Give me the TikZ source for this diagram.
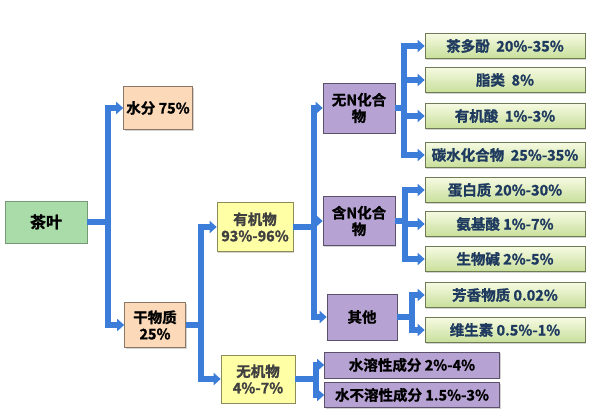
\documentclass[tikz,border=0pt]{standalone}
\usepackage{xcolor}
\usepackage{fontspec}
\usepackage{tikz}
\usetikzlibrary{arrows.meta,shadows}
\newfontfamily\cjkbold[FakeBold=1.2]{Noto Sans CJK SC Bold}
\definecolor{linkblue}{HTML}{3C7DD9}
\definecolor{teagreen}{HTML}{A9DCA9}
\definecolor{peach}{HTML}{FBD9B9}
\definecolor{paleyellow}{HTML}{FFFFA6}
\definecolor{lilac}{HTML}{B7A3D3}
\definecolor{leaftop}{HTML}{F6FAE2}
\definecolor{leafbot}{HTML}{C8DF9A}
\definecolor{navy}{HTML}{1F3A5F}

\tikzset{
  box/.style={draw=black!45, line width=0.6pt, inner sep=0pt, align=center,
    font=\cjkbold\fontsize{14.5}{16.5}\selectfont,
    drop shadow={shadow xshift=1.2pt, shadow yshift=-1.2pt, opacity=0.35}},
  rootbox/.style={box, fill=teagreen, draw=teagreen!70!black,
    font=\cjkbold\fontsize{16}{18}\selectfont,
    minimum width=82pt, minimum height=42pt},
  partbox/.style={box, fill=peach, draw=peach!55!black},
  classbox/.style={box, fill=paleyellow, draw=paleyellow!55!black, text=black!75},
  groupbox/.style={box, fill=lilac, draw=lilac!50!black},
  leafbox/.style={box, top color=leaftop, bottom color=leafbot, draw=leafbot!55!black,
    text=navy, font=\cjkbold\fontsize{14.5}{16}\selectfont,
    minimum width=160pt, minimum height=25pt},
  link/.style={draw=linkblue, line width=5.5pt},
  arr/.style={link, -{Triangle[width=12pt,length=7pt]}}
}

\begin{document}
\begin{tikzpicture}[x=1pt,y=-1pt]
\useasboundingbox (0,0) rectangle (595,418);

% first level
\node[rootbox] (tea) at (46,222) {茶叶};
\node[partbox, minimum width=69pt, minimum height=43pt] (water) at (158,108) {水分 75\%};
\node[partbox, minimum width=61pt, minimum height=45pt] (dry) at (155,325) {干物质\\25\%};

% second level
\node[classbox, minimum width=76pt, minimum height=49pt] (organic) at (255,227) {有机物\\93\%-96\%};
\node[classbox, minimum width=74pt, minimum height=48pt] (inorganic) at (258,379) {无机物\\4\%-7\%};

% third level
\node[groupbox, minimum width=72pt, minimum height=50pt] (nonitro) at (359,108) {无N化合\\物};
\node[groupbox, minimum width=72pt, minimum height=49pt] (nitro) at (359,221) {含N化合\\物};
\node[groupbox, minimum width=70pt, minimum height=46pt] (other) at (362,317) {其他};
\node[groupbox, minimum width=175pt, minimum height=26pt] (soluble) at (412,365) {水溶性成分 2\%-4\%};
\node[groupbox, minimum width=175pt, minimum height=25pt] (insoluble) at (412,395) {水不溶性成分 1.5\%-3\%};

% leaves
\node[leafbox] (polyphenol) at (505,46) {茶多酚\ \ 20\%-35\%};
\node[leafbox] (lipid) at (505,80) {脂类\ \ 8\%};
\node[leafbox] (acid) at (505,116) {有机酸\ \ 1\%-3\%};
\node[leafbox] (carbo) at (505,155) {碳水化合物\ \ 25\%-35\%};
\node[leafbox] (protein) at (505,190) {蛋白质 20\%-30\%};
\node[leafbox] (amino) at (505,224) {氨基酸 1\%-7\%};
\node[leafbox] (alkaloid) at (505,259) {生物碱 2\%-5\%};
\node[leafbox] (aroma) at (505,295) {芳香物质 0.02\%};
\node[leafbox] (vitamin) at (505,330) {维生素 0.5\%-1\%};

% junctions
\coordinate (jtea) at (108,222);
\coordinate (jdry) at (201,325);
\coordinate (jorg) at (314,227);
\coordinate (jinorg) at (316,379);
\coordinate (jnon) at (404,108);
\coordinate (jnit) at (405,221);
\coordinate (joth) at (412,317);

% connectors
\draw[link] (tea.east) -- (jtea);
\draw[arr] (jtea) |- (water.west);
\draw[arr] (jtea) |- (dry.west);

\draw[link] (dry.east) -- (jdry);
\draw[arr] (jdry) |- (organic.west);
\draw[arr] (jdry) |- (inorganic.west);

\draw[link] (organic.east) -- (jorg);
\foreach \t in {nonitro,nitro,other}
  \draw[arr] (jorg) |- (\t.west);

\draw[link] (inorganic.east) -- (jinorg);
\foreach \t in {soluble,insoluble}
  \draw[arr] (jinorg) |- (\t.west);

\draw[link] (nonitro.east) -- (jnon);
\foreach \t in {polyphenol,lipid,acid,carbo}
  \draw[arr] (jnon) |- (\t.west);

\draw[link] (nitro.east) -- (jnit);
\foreach \t in {protein,amino,alkaloid}
  \draw[arr] (jnit) |- (\t.west);

\draw[link] (other.east) -- (joth);
\foreach \t in {aroma,vitamin}
  \draw[arr] (joth) |- (\t.west);
\end{tikzpicture}
\end{document}
